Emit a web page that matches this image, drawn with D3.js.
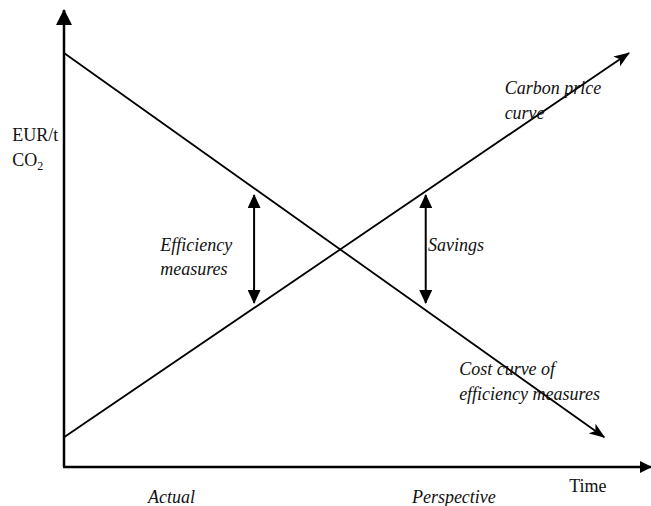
<!DOCTYPE html>
<html>
<head>
<meta charset="utf-8">
<script src="https://cdn.jsdelivr.net/npm/d3@7"></script>
<style>
  body { margin: 0; background: #fff; }
  svg text { font-family: "Liberation Serif", "Times New Roman", serif; font-size: 18px; fill: #111; }
  .it { font-style: italic; }
</style>
</head>
<body>
<div id="chart"></div>
<script>
// schematic values (arbitrary units, 0..100)
const xAxisEnd = 101.9;
const yAxisEnd = 100;
const carbonPrice = [[0, 6.5], [98.1, 90.6]];        // rising line
const costCurve = [[0, 90.6], [93.8, 6.5]];          // falling line
const gapArrows = [
  { x: 33, y0: 59.5, y1: 35.9 },
  { x: 62.8, y0: 59.5, y1: 35.9 }
];
const labels = [
  { text: "EUR/t", x: -9, y: 71.3, italic: false },
  { text: "CO", sub: "2", x: -9, y: 65.9, italic: false },
  { text: "Carbon price", x: 76.5, y: 81.6, italic: true },
  { text: "curve", x: 76.5, y: 76.1, italic: true },
  { text: "Efficiency", x: 16.7, y: 47.3, italic: true },
  { text: "measures", x: 16.7, y: 42.0, italic: true },
  { text: "Savings", x: 63.2, y: 47.3, italic: true },
  { text: "Cost curve of", x: 68.6, y: 20.1, italic: true },
  { text: "efficiency measures", x: 68.6, y: 14.6, italic: true },
  { text: "Time", x: 87.7, y: -5.5, italic: false },
  { text: "Actual", x: 14.6, y: -7.9, italic: true },
  { text: "Perspective", x: 60.4, y: -7.9, italic: true }
];

const width = 651, height = 506;
const x = d3.scaleLinear().domain([0, 100]).range([64, 640]);
const y = d3.scaleLinear().domain([0, 100]).range([467, 10]);

const svg = d3.select("#chart").append("svg")
  .attr("width", width)
  .attr("height", height);

const defs = svg.append("defs");

// solid triangle for y axis
defs.append("marker")
  .attr("id", "axisHead")
  .attr("markerUnits", "userSpaceOnUse")
  .attr("viewBox", "0 0 16 16")
  .attr("refX", 15).attr("refY", 8)
  .attr("markerWidth", 16).attr("markerHeight", 16)
  .attr("orient", "auto")
  .append("path").attr("d", "M0,0 L16,8 L0,16 Z").attr("fill", "#000");

// smaller head for x axis
defs.append("marker")
  .attr("id", "axisHeadX")
  .attr("markerUnits", "userSpaceOnUse")
  .attr("viewBox", "0 0 12 12")
  .attr("refX", 11).attr("refY", 6)
  .attr("markerWidth", 12).attr("markerHeight", 12)
  .attr("orient", "auto")
  .append("path").attr("d", "M0,0 L12,6 L0,12 Z").attr("fill", "#000");

// notched head for curves
defs.append("marker")
  .attr("id", "curveHead")
  .attr("markerUnits", "userSpaceOnUse")
  .attr("viewBox", "0 0 16 12")
  .attr("refX", 15).attr("refY", 6)
  .attr("markerWidth", 16).attr("markerHeight", 12)
  .attr("orient", "auto")
  .append("path").attr("d", "M0,0 L16,6 L0,12 L4,6 Z").attr("fill", "#000");

// double-arrow head
defs.append("marker")
  .attr("id", "gapHead")
  .attr("markerUnits", "userSpaceOnUse")
  .attr("viewBox", "0 0 14 13")
  .attr("refX", 13).attr("refY", 6.5)
  .attr("markerWidth", 14).attr("markerHeight", 13)
  .attr("orient", "auto-start-reverse")
  .append("path").attr("d", "M0,0 L14,6.5 L0,13 Z").attr("fill", "#000");

// axes
svg.append("line")
  .attr("x1", x(0)).attr("y1", y(0))
  .attr("x2", x(0)).attr("y2", y(yAxisEnd))
  .attr("stroke", "#000").attr("stroke-width", 2.5)
  .attr("marker-end", "url(#axisHead)");

svg.append("line")
  .attr("x1", x(0) - 1).attr("y1", y(0))
  .attr("x2", x(xAxisEnd)).attr("y2", y(0))
  .attr("stroke", "#000").attr("stroke-width", 2.5)
  .attr("marker-end", "url(#axisHeadX)");

const line = d3.line().x(d => x(d[0])).y(d => y(d[1]));

[carbonPrice, costCurve].forEach(pts => {
  svg.append("path")
    .attr("d", line(pts))
    .attr("fill", "none")
    .attr("stroke", "#000")
    .attr("stroke-width", 1.8)
    .attr("marker-end", "url(#curveHead)");
});

svg.selectAll(".gap")
  .data(gapArrows)
  .join("line")
  .attr("class", "gap")
  .attr("x1", d => x(d.x)).attr("y1", d => y(d.y0))
  .attr("x2", d => x(d.x)).attr("y2", d => y(d.y1))
  .attr("stroke", "#000").attr("stroke-width", 2)
  .attr("marker-start", "url(#gapHead)")
  .attr("marker-end", "url(#gapHead)");

// labels
labels.forEach(l => {
  const t = svg.append("text")
    .attr("class", l.italic ? "it" : null)
    .attr("x", x(l.x))
    .attr("y", y(l.y))
    .text(l.text);
  if (l.sub) {
    t.append("tspan")
      .attr("dy", 4)
      .style("font-size", "12px")
      .text(l.sub);
  }
});
</script>
</body>
</html>
